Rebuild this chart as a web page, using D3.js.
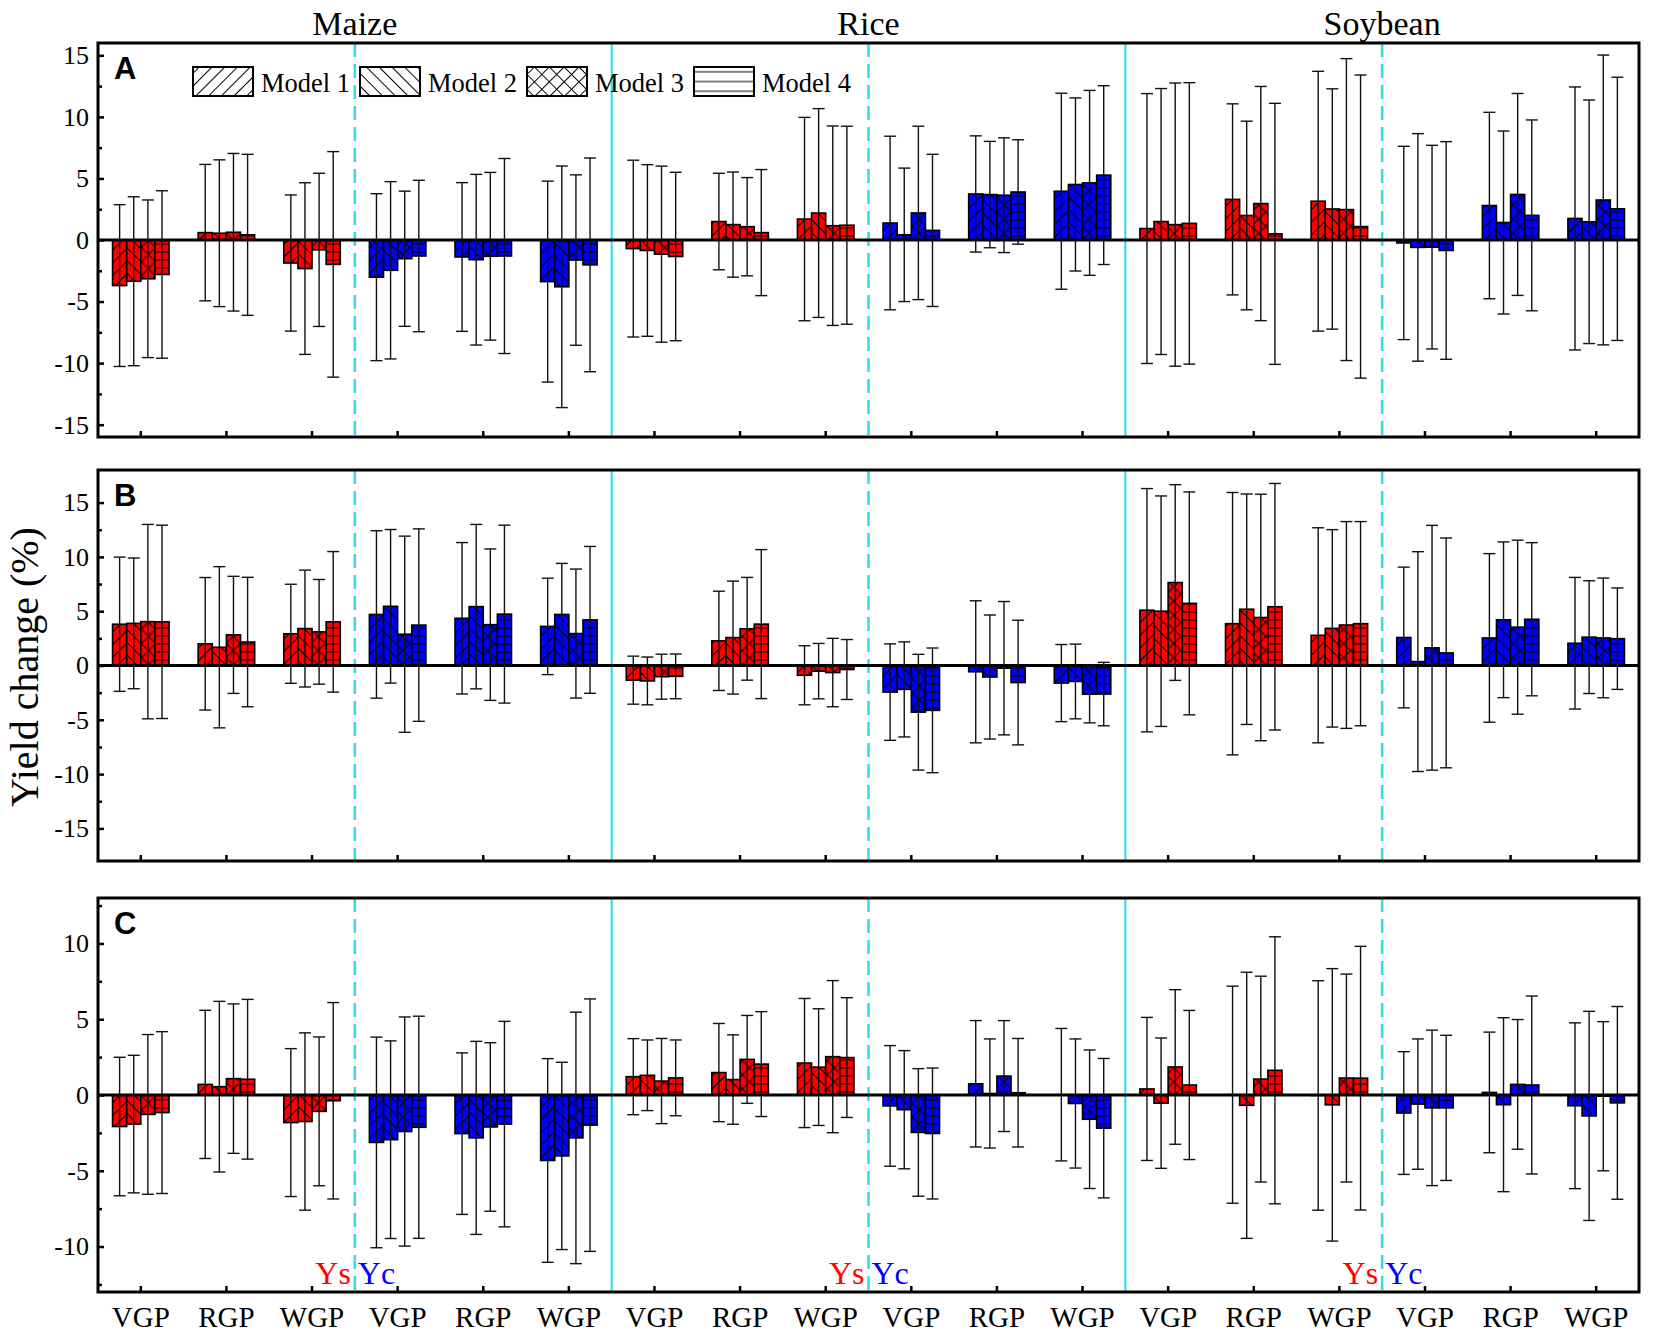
<!DOCTYPE html>
<html>
<head>
<meta charset="utf-8">
<script src="https://cdn.jsdelivr.net/npm/d3@7"></script>
<style>
  body { margin: 0; background: #fff; }
  svg { display: block; }
</style>
</head>
<body>
<div id="chart"></div>
<script>
// categories
const crops = ["Maize", "Rice", "Soybean"];
const sources = ["Ys", "Yc"];
const periods = ["VGP", "RGP", "WGP"];
const models = ["Model 1", "Model 2", "Model 3", "Model 4"];

// y ticks
const ticksAB = [-15, -10, -5, 0, 5, 10, 15];
const minorAB = [-12.5, -7.5, -2.5, 2.5, 7.5, 12.5];
const ticksC = [-10, -5, 0, 5, 10];
const minorC = [-12.5, -7.5, -2.5, 2.5, 7.5, 12.5];

// one row per group (crop x source x period), one value per model
const meanA = [
  [-3.7, -3.35, -3.15, -2.8], [0.6, 0.55, 0.63, 0.42], [-1.87, -2.32, -0.8, -1.98],
  [-3.02, -2.46, -1.52, -1.3], [-1.38, -1.6, -1.32, -1.3], [-3.38, -3.8, -1.63, -2.02],
  [-0.7, -0.85, -1.15, -1.34], [1.5, 1.25, 1.08, 0.6], [1.7, 2.19, 1.16, 1.2],
  [1.38, 0.42, 2.2, 0.78], [3.74, 3.69, 3.64, 3.9], [3.96, 4.51, 4.64, 5.27],
  [0.93, 1.5, 1.25, 1.35], [3.3, 1.99, 2.96, 0.5], [3.15, 2.52, 2.47, 1.09],
  [-0.24, -0.6, -0.58, -0.85], [2.8, 1.42, 3.7, 2.0], [1.75, 1.48, 3.25, 2.53]
];
const sdA = [
  [6.57, 6.86, 6.4, 6.8], [5.54, 5.96, 6.4, 6.54], [5.53, 6.97, 6.22, 9.16],
  [6.78, 7.2, 5.49, 6.15], [6.04, 6.93, 6.81, 7.92], [8.16, 9.81, 6.92, 8.68],
  [7.18, 6.97, 7.15, 6.84], [3.92, 4.27, 3.99, 5.12], [8.26, 8.48, 8.1, 8.04],
  [7.05, 5.42, 7.04, 6.18], [4.72, 4.32, 4.66, 4.24], [7.96, 7.03, 7.51, 7.26],
  [10.96, 10.8, 11.5, 11.43], [7.76, 7.66, 9.51, 10.6], [10.55, 9.76, 12.26, 12.31],
  [7.85, 9.24, 8.27, 8.84], [7.57, 7.43, 8.2, 7.75], [10.68, 9.89, 11.77, 10.69]
];
const meanB = [
  [3.8, 3.88, 4.04, 4.02], [2.0, 1.68, 2.82, 2.16], [2.92, 3.4, 3.1, 4.02],
  [4.7, 5.45, 2.88, 3.72], [4.35, 5.42, 3.76, 4.73], [3.6, 4.7, 2.94, 4.2],
  [-1.35, -1.42, -1.03, -1.0], [2.27, 2.57, 3.38, 3.81], [-0.9, -0.52, -0.65, -0.37],
  [-2.45, -2.2, -4.3, -4.13], [-0.58, -1.06, -0.25, -1.57], [-1.62, -1.47, -2.64, -2.63],
  [5.09, 5.0, 7.64, 5.72], [3.85, 5.18, 4.42, 5.41], [2.78, 3.42, 3.73, 3.85],
  [2.58, 0.36, 1.63, 1.16], [2.54, 4.21, 3.53, 4.26], [2.05, 2.61, 2.54, 2.47]
];
const sdB = [
  [6.18, 6.02, 8.95, 8.9], [6.1, 7.42, 5.39, 5.96], [4.56, 5.38, 4.82, 6.47],
  [7.71, 7.07, 9.03, 8.86], [6.97, 7.57, 6.97, 8.19], [4.44, 4.7, 5.94, 6.76],
  [2.21, 2.2, 2.07, 2.06], [4.57, 5.2, 4.73, 6.86], [2.72, 2.55, 3.15, 2.76],
  [4.44, 4.38, 5.33, 5.74], [6.54, 5.71, 6.14, 5.74], [3.55, 3.44, 2.64, 2.92],
  [11.2, 10.61, 9.01, 10.26], [12.08, 10.61, 11.35, 11.35], [9.9, 9.09, 9.52, 9.4],
  [6.48, 10.12, 11.27, 10.58], [7.76, 7.17, 8.01, 7.05], [6.06, 5.19, 5.51, 4.67]
];
const meanC = [
  [-2.08, -1.92, -1.28, -1.16], [0.7, 0.55, 1.08, 1.04], [-1.82, -1.75, -1.08, -0.38],
  [-3.13, -2.95, -2.41, -2.13], [-2.55, -2.83, -2.11, -1.92], [-4.32, -4.02, -2.83, -1.99],
  [1.21, 1.3, 0.92, 1.13], [1.48, 1.02, 2.35, 2.04], [2.11, 1.84, 2.53, 2.47],
  [-0.72, -0.97, -2.47, -2.54], [0.74, 0.1, 1.25, 0.15], [0.02, -0.56, -1.6, -2.19],
  [0.4, -0.54, 1.85, 0.66], [0.02, -0.68, 1.05, 1.63], [-0.03, -0.65, 1.12, 1.11],
  [-1.19, -0.6, -0.85, -0.85], [0.17, -0.64, 0.7, 0.66], [-0.71, -1.38, -0.08, -0.52]
];
const sdC = [
  [4.57, 4.54, 5.27, 5.34], [4.89, 5.63, 4.93, 5.27], [4.88, 5.85, 4.91, 6.48],
  [6.95, 6.52, 7.56, 7.33], [5.33, 6.37, 5.56, 6.78], [6.72, 6.18, 8.3, 8.33],
  [2.51, 2.33, 2.81, 2.5], [3.24, 2.95, 2.9, 3.46], [4.26, 3.85, 5.02, 3.95],
  [3.98, 3.9, 4.21, 4.32], [4.17, 3.6, 3.66, 3.58], [4.37, 4.26, 4.57, 4.6],
  [4.72, 4.3, 5.1, 4.92], [7.16, 8.78, 6.79, 8.81], [7.57, 8.99, 6.86, 8.7],
  [4.05, 4.3, 5.13, 4.79], [3.98, 5.74, 4.28, 5.87], [5.47, 6.9, 4.92, 6.36]
];

function chart(selector) {
  const width = 1654, height = 1342;
  const left = 98, right = 1639;
  const serif = "'Liberation Serif', 'Times New Roman', serif";
  const sans = "'Liberation Sans', Arial, sans-serif";
  const colors = { Ys: "#ff0000", Yc: "#0000ff" };

  const panels = [
    { name: "A", top: 43, bottom: 437, domain: [-16, 16], ticks: ticksAB, minor: minorAB, mean: meanA, sd: sdA },
    { name: "B", top: 470, bottom: 861, domain: [-18, 18], ticks: ticksAB, minor: minorAB, mean: meanB, sd: sdB },
    { name: "C", top: 898, bottom: 1292, domain: [-13, 13], ticks: ticksC, minor: minorC, mean: meanC, sd: sdC }
  ];

  // groups in drawing order
  const groups = [];
  crops.forEach(c => sources.forEach(s => periods.forEach(p => groups.push({ crop: c, source: s, period: p }))));

  const x0 = d3.scaleBand().domain(d3.range(groups.length)).range([left, right])
    .paddingInner(0.34).paddingOuter(0.17);
  const x1 = d3.scaleBand().domain(d3.range(models.length)).range([0, x0.bandwidth()]);
  const boundary = i => x0(i) - x0.step() * x0.paddingInner() / 2;

  const svg = d3.select(selector).append("svg")
    .attr("width", width).attr("height", height)
    .attr("viewBox", [0, 0, width, height].join(" "));

  // hatch patterns, one per model and fill
  const defs = svg.append("defs");
  function addPattern(id, bg, m, size) {
    const p = defs.append("pattern").attr("id", id)
      .attr("patternUnits", "userSpaceOnUse")
      .attr("width", size).attr("height", size);
    if (m === 0 || m === 2) p.attr("patternTransform", "rotate(45)");
    if (m === 1) p.attr("patternTransform", "rotate(-45)");
    p.append("rect").attr("width", size).attr("height", size).attr("fill", bg);
    const line = (a, b, c, d) => p.append("line")
      .attr("x1", a).attr("y1", b).attr("x2", c).attr("y2", d)
      .attr("stroke", "#000").attr("stroke-width", 1);
    if (m < 3) line(size / 2, 0, size / 2, size);
    if (m === 2) line(0, size / 2, size, size / 2);
    if (m === 3) line(0, size / 2, size, size / 2);
  }
  const barSizes = [9, 9, 10, 8];
  const legendSizes = [9, 9, 10.5, 9.7];
  models.forEach((_, m) => {
    addPattern("p-Ys-" + m, colors.Ys, m, barSizes[m]);
    addPattern("p-Yc-" + m, colors.Yc, m, barSizes[m]);
    addPattern("p-leg-" + m, "#fff", m, legendSizes[m]);
  });

  // crop titles
  svg.selectAll(".crop")
    .data(crops)
    .enter().append("text")
    .attr("class", "crop")
    .attr("x", (d, i) => boundary(i * 6 + 3))
    .attr("y", 35)
    .attr("text-anchor", "middle")
    .attr("font-family", serif)
    .attr("font-size", 34)
    .text(d => d);

  // y-axis title
  svg.append("text")
    .attr("transform", "translate(38," + 667 + ") rotate(-90)")
    .attr("text-anchor", "middle")
    .attr("font-family", serif)
    .attr("font-size", 40)
    .text("Yield change (%)");

  panels.forEach((panel, pi) => {
    const y = d3.scaleLinear().domain(panel.domain).range([panel.bottom, panel.top]);
    const g = svg.append("g");

    // separators
    [6, 12].forEach(i => {
      g.append("line")
        .attr("x1", boundary(i)).attr("x2", boundary(i))
        .attr("y1", panel.top).attr("y2", panel.bottom)
        .attr("stroke", "#22dde8").attr("stroke-width", 2);
    });
    [3, 9, 15].forEach(i => {
      g.append("line")
        .attr("x1", boundary(i)).attr("x2", boundary(i))
        .attr("y1", panel.top).attr("y2", panel.bottom)
        .attr("stroke", "#2fdcea").attr("stroke-width", 2.5)
        .attr("stroke-dasharray", "14,7");
    });

    const cells = [];
    groups.forEach((grp, gi) => {
      models.forEach((_, mi) => {
        cells.push({ gi: gi, mi: mi, source: grp.source, mean: panel.mean[gi][mi], sd: panel.sd[gi][mi] });
      });
    });
    const cx = d => x0(d.gi) + x1(d.mi) + x1.bandwidth() / 2;

    g.selectAll(".bar")
      .data(cells)
      .enter().append("rect")
      .attr("class", "bar")
      .attr("x", d => x0(d.gi) + x1(d.mi))
      .attr("y", d => y(Math.max(0, d.mean)))
      .attr("width", x1.bandwidth())
      .attr("height", d => Math.abs(y(d.mean) - y(0)))
      .attr("fill", d => "url(#p-" + d.source + "-" + d.mi + ")")
      .attr("stroke", "#000")
      .attr("stroke-width", 1.6);

    // zero line
    g.append("line")
      .attr("x1", left).attr("x2", right)
      .attr("y1", y(0)).attr("y2", y(0))
      .attr("stroke", "#000").attr("stroke-width", 3);

    // error bars on top of the bars
    const err = g.selectAll(".err")
      .data(cells)
      .enter().append("g")
      .attr("class", "err")
      .attr("stroke", "#111")
      .attr("stroke-width", 1.4);
    err.append("line")
      .attr("x1", cx).attr("x2", cx)
      .attr("y1", d => y(d.mean + d.sd)).attr("y2", d => y(d.mean - d.sd));
    err.append("line")
      .attr("x1", d => cx(d) - 6).attr("x2", d => cx(d) + 6)
      .attr("y1", d => y(d.mean + d.sd)).attr("y2", d => y(d.mean + d.sd));
    err.append("line")
      .attr("x1", d => cx(d) - 6).attr("x2", d => cx(d) + 6)
      .attr("y1", d => y(d.mean - d.sd)).attr("y2", d => y(d.mean - d.sd));

    // left axis, inward ticks
    const yAxis = g.append("g")
      .attr("transform", "translate(" + left + ",0)")
      .call(d3.axisLeft(y).tickValues(panel.ticks).tickSize(-6).tickPadding(9).tickFormat(d => String(d)));
    yAxis.select(".domain").remove();
    yAxis.selectAll("line").attr("stroke-width", 2.5);
    yAxis.selectAll("text").attr("font-family", serif).attr("font-size", 26).attr("fill", "#000");

    const yMinor = g.append("g")
      .attr("transform", "translate(" + left + ",0)")
      .call(d3.axisLeft(y).tickValues(panel.minor).tickSize(-4).tickFormat(""));
    yMinor.select(".domain").remove();
    yMinor.selectAll("line").attr("stroke-width", 2.5);

    // bottom axis
    const xAxis = g.append("g")
      .attr("transform", "translate(0," + panel.bottom + ")")
      .call(d3.axisBottom(x0).tickSize(-6).tickPadding(14)
        .tickFormat(i => pi === 2 ? groups[i].period : ""));
    xAxis.select(".domain").remove();
    xAxis.selectAll("line").attr("stroke-width", 2.5);
    xAxis.selectAll("text").attr("font-family", serif).attr("font-size", 29).attr("fill", "#000");

    // frame
    g.append("rect")
      .attr("x", left).attr("y", panel.top)
      .attr("width", right - left).attr("height", panel.bottom - panel.top)
      .attr("fill", "none").attr("stroke", "#000").attr("stroke-width", 3);

    // panel letter
    g.append("text")
      .attr("x", left + 16).attr("y", panel.top + 36)
      .attr("font-family", sans).attr("font-weight", "bold").attr("font-size", 31)
      .text(panel.name);

    // Ys / Yc labels in the last panel
    if (pi === 2) {
      [3, 9, 15].forEach(i => {
        g.append("text")
          .attr("x", boundary(i) - 4).attr("y", panel.bottom - 8)
          .attr("text-anchor", "end")
          .attr("font-family", serif).attr("font-size", 32)
          .attr("fill", colors.Ys)
          .text(sources[0]);
        g.append("text")
          .attr("x", boundary(i) + 3).attr("y", panel.bottom - 8)
          .attr("font-family", serif).attr("font-size", 32)
          .attr("fill", colors.Yc)
          .text(sources[1]);
      });
    }

    // legend in the first panel
    if (pi === 0) {
      const leg = g.selectAll(".legend")
        .data(models)
        .enter().append("g")
        .attr("class", "legend")
        .attr("transform", (d, i) => "translate(" + (193 + i * 167) + ",67)");
      leg.append("rect")
        .attr("width", 60).attr("height", 29)
        .attr("fill", (d, i) => "url(#p-leg-" + i + ")")
        .attr("stroke", "#000").attr("stroke-width", 2);
      leg.append("text")
        .attr("x", 68).attr("y", 25)
        .attr("font-family", serif).attr("font-size", 26.5)
        .text(d => d);
    }
  });

  return chart;
}

chart("#chart");
</script>
</body>
</html>
